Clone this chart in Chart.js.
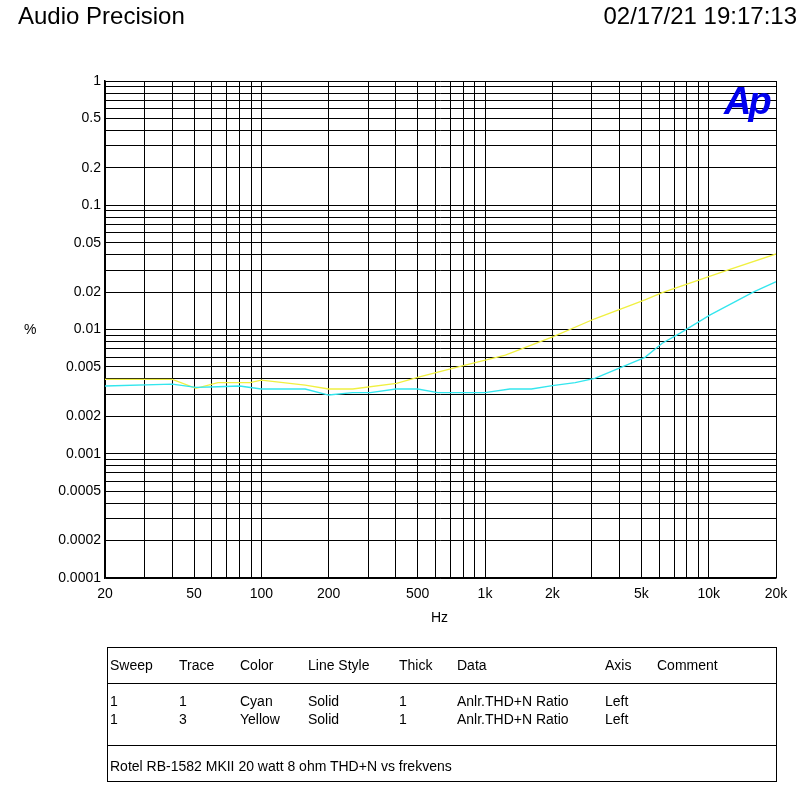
<!DOCTYPE html>
<html><head><meta charset="utf-8">
<script src="https://cdn.jsdelivr.net/npm/chart.js@4"></script>
<style>
body{margin:0;background:#fff;font-family:"Liberation Sans",Arial,sans-serif;}
#wrap{position:relative;width:807px;height:789px;}
.t{position:absolute;color:#000;white-space:nowrap;}
</style></head><body>
<div id="wrap">
<canvas id="c" width="807" height="789"></canvas>
<div class="t" style="left:18px;top:2px;font-size:24px;">Audio Precision</div>
<div class="t" style="right:10px;top:2px;font-size:24px;">02/17/21 19:17:13</div>
<div class="t" style="left:24px;top:321px;font-size:14px;">%</div>
<div class="t" style="left:431px;top:609px;font-size:14px;">Hz</div>
<div class="t" style="left:724px;top:80px;font-size:38px;font-weight:bold;font-style:italic;color:#0000ee;letter-spacing:-3px;">Ap</div>
<div style="position:absolute;left:107px;top:647px;width:668px;height:133px;border:1px solid #000;font-size:14px;">
  <div style="position:absolute;left:0;right:0;top:35px;border-top:1px solid #000;"></div>
  <div style="position:absolute;left:0;right:0;top:97px;border-top:1px solid #000;"></div>
  <div class="t" style="left:2px;top:9px">Sweep</div><div class="t" style="left:71px;top:9px">Trace</div><div class="t" style="left:132px;top:9px">Color</div><div class="t" style="left:200px;top:9px">Line Style</div><div class="t" style="left:291px;top:9px">Thick</div><div class="t" style="left:349px;top:9px">Data</div><div class="t" style="left:497px;top:9px">Axis</div><div class="t" style="left:549px;top:9px">Comment</div>
  <div class="t" style="left:2px;top:45px">1</div><div class="t" style="left:71px;top:45px">1</div><div class="t" style="left:132px;top:45px">Cyan</div><div class="t" style="left:200px;top:45px">Solid</div><div class="t" style="left:291px;top:45px">1</div><div class="t" style="left:349px;top:45px">Anlr.THD+N Ratio</div><div class="t" style="left:497px;top:45px">Left</div>
  <div class="t" style="left:2px;top:63px">1</div><div class="t" style="left:71px;top:63px">3</div><div class="t" style="left:132px;top:63px">Yellow</div><div class="t" style="left:200px;top:63px">Solid</div><div class="t" style="left:291px;top:63px">1</div><div class="t" style="left:349px;top:63px">Anlr.THD+N Ratio</div><div class="t" style="left:497px;top:63px">Left</div>
  <div class="t" style="left:2px;top:110px">Rotel RB-1582 MKII 20 watt 8 ohm THD+N vs frekvens</div>
</div>
</div>
<script>
const cyanFreq=[20,40,51,64,80,100,157,200,256,307,400,500,615,1000,1290,1614,2000,2530,3095,3960,5190,6200,7420,10160,15900,20800];
const cyanVal=[0.00351,0.00364,0.00342,0.00346,0.00351,0.00332,0.00332,0.00297,0.0031,0.0031,0.00332,0.00332,0.0031,0.0031,0.00332,0.00332,0.00353,0.00373,0.00405,0.00487,0.00597,0.00775,0.0093,0.0131,0.0201,0.025];
const yellowFreq=[20,40,51,64,89,100,157,200,256,402,514,824,1233,2020,3095,5190,6200,12160,20800];
const yellowVal=[0.00397,0.00397,0.00336,0.00373,0.00373,0.00392,0.00357,0.00332,0.00332,0.00369,0.00417,0.00518,0.00623,0.00875,0.0122,0.0173,0.0198,0.0301,0.0415];
const xLabels=[20,50,100,200,500,1000,2000,5000,10000,20000];
const yLabels=[1,0.5,0.2,0.1,0.05,0.02,0.01,0.005,0.002,0.001,0.0005,0.0002,0.0001];
const xTicks=[];for(let d=10;d<=10000;d*=10)for(let m=1;m<10;m++){const v=d*m;if(v>=20&&v<=20000)xTicks.push(v);}
const yTicks=[];for(let d=0.0001;d<0.99;d*=10)for(let m=1;m<10;m++)yTicks.push(+(d*m).toPrecision(3));yTicks.push(1);
const near=(a,b)=>Math.abs(a-b)/b<1e-6;
const fmtX=v=>v>=1000?(v/1000)+'k':String(v);
new Chart(document.getElementById('c'),{type:'scatter',
data:{datasets:[
{data:cyanFreq.map((f,i)=>({x:f,y:cyanVal[i]})),showLine:true,borderColor:'#33e6ee',borderWidth:1.3,pointRadius:0},
{data:yellowFreq.map((f,i)=>({x:f,y:yellowVal[i]})),showLine:true,borderColor:'#f0f040',borderWidth:1.3,pointRadius:0}]},
options:{responsive:false,animation:false,plugins:{legend:{display:false},tooltip:{enabled:false}},
layout:{padding:{left:0,top:81,right:31,bottom:171}},
scales:{
x:{type:'logarithmic',min:20,max:20000,afterBuildTicks:s=>{s.ticks=xTicks.map(v=>({value:v}));},
 afterFit:s=>{s.height=40;},
 grid:{color:'#000',lineWidth:1,drawTicks:false},border:{color:'#000',width:1.5},
 ticks:{autoSkip:false,maxRotation:0,padding:8,color:'#000',font:{size:14,family:'Liberation Sans'},callback:v=>xLabels.some(l=>near(l,v))?fmtX(v):''}},
y:{type:'logarithmic',min:0.0001,max:1,afterBuildTicks:s=>{s.ticks=yTicks.map(v=>({value:v}));},
 afterFit:s=>{s.width=105;},
 grid:{color:'#000',lineWidth:1,drawTicks:false},border:{color:'#000',width:1.5},
 ticks:{autoSkip:false,padding:4,color:'#000',font:{size:14,family:'Liberation Sans'},callback:v=>{const l=yLabels.find(l=>near(l,v));return l!==undefined?String(l):'';}}}
}}});
</script></body></html>
